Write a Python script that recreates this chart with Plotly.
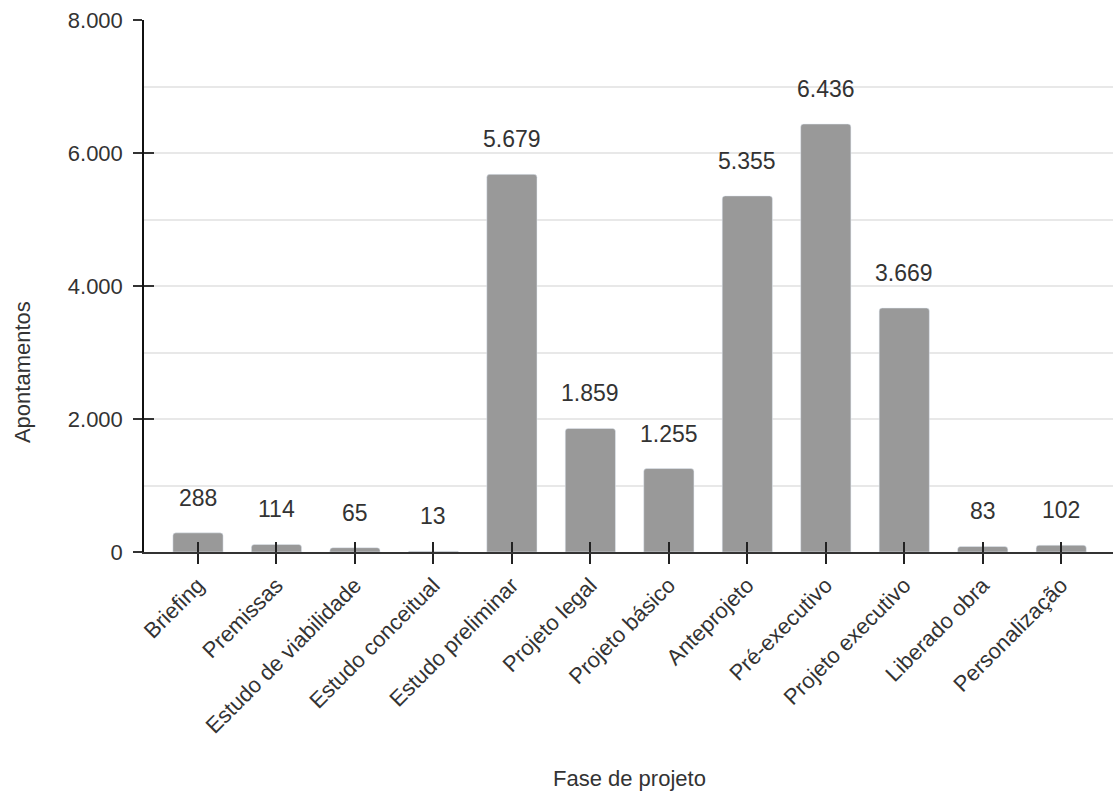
import plotly.graph_objects as go

categories = ["Briefing", "Premissas", "Estudo de viabilidade", "Estudo conceitual",
              "Estudo preliminar", "Projeto legal", "Projeto básico", "Anteprojeto",
              "Pré-executivo", "Projeto executivo", "Liberado obra", "Personalização"]
values = [288, 114, 65, 13, 5679, 1859, 1255, 5355, 6436, 3669, 83, 102]
y_ticks = [0, 2000, 4000, 6000, 8000]
x_title = "Fase de projeto"
y_title = "Apontamentos"

FONT = "Liberation Sans, Arial, sans-serif"
TXT = "#333333"

fig = go.Figure()
fig.add_trace(go.Bar(x=categories, y=values, marker=dict(color="#999999", cornerradius=3),
                     hoverinfo="skip", showlegend=False))
# invisible helper trace so the overlay axes (inside ticks) are drawn
fig.add_trace(go.Scatter(x=categories, y=values, xaxis="x2", yaxis="y2", mode="markers",
                         marker=dict(opacity=0), hoverinfo="skip", showlegend=False))

def fmt(v):
    return f"{v:,}".replace(",", ".")

for c, v in zip(categories, values):
    fig.add_annotation(x=c, y=v, text=fmt(v), showarrow=False, yshift=35,
                       yanchor="middle", font=dict(family=FONT, size=23, color=TXT))

xr = [-0.688, 11.66]
yr = [0, 8000]
fig.update_layout(
    width=1115, height=793,
    margin=dict(l=144, r=2, t=20, b=241),
    paper_bgcolor="white", plot_bgcolor="white",
    separators=",.",
    bargap=0.36,
    font=dict(family=FONT, size=22, color=TXT),
    xaxis=dict(type="category", range=xr, showline=True, linecolor="#333333", linewidth=1.5,
               ticks="outside", ticklen=10, tickwidth=1.5, tickcolor="#222222",
               tickangle=-45, showgrid=False, zeroline=False,
               tickfont=dict(family=FONT, size=22, color=TXT)),
    xaxis2=dict(type="category", range=xr, overlaying="x", anchor="y2", side="bottom",
                showline=False, ticks="inside", ticklen=10, tickwidth=1.5, tickcolor="#222222",
                showticklabels=False, showgrid=False, zeroline=False),
    yaxis=dict(range=yr, tickvals=y_ticks, ticktext=[fmt(t) for t in y_ticks],
               showline=True, linecolor="#111111", linewidth=1.5,
               ticks="outside", ticklen=9, tickwidth=1.5, tickcolor="#333333",
               ticklabelstandoff=6,
               showgrid=True, gridcolor="#e8e8e8", gridwidth=1.5, zeroline=False,
               minor=dict(dtick=1000, showgrid=True, gridcolor="#e8e8e8", gridwidth=1.5),
               tickfont=dict(family=FONT, size=22, color=TXT)),
    yaxis2=dict(range=yr, tickvals=y_ticks, overlaying="y", anchor="x2", side="left",
                showline=False, ticks="inside", ticklen=10, tickwidth=1.5, tickcolor="#333333",
                showticklabels=False, showgrid=False, zeroline=False),
)

fig.add_annotation(text=y_title, xref="paper", yref="paper", x=-0.126, y=0.338,
                   textangle=-90, showarrow=False, xanchor="center", yanchor="middle",
                   font=dict(family=FONT, size=22, color=TXT))
fig.add_annotation(text=x_title, xref="paper", yref="paper", x=0.5015, y=-0.425,
                   showarrow=False, xanchor="center", yanchor="middle",
                   font=dict(family=FONT, size=22, color=TXT))

fig.write_html("out.html")
